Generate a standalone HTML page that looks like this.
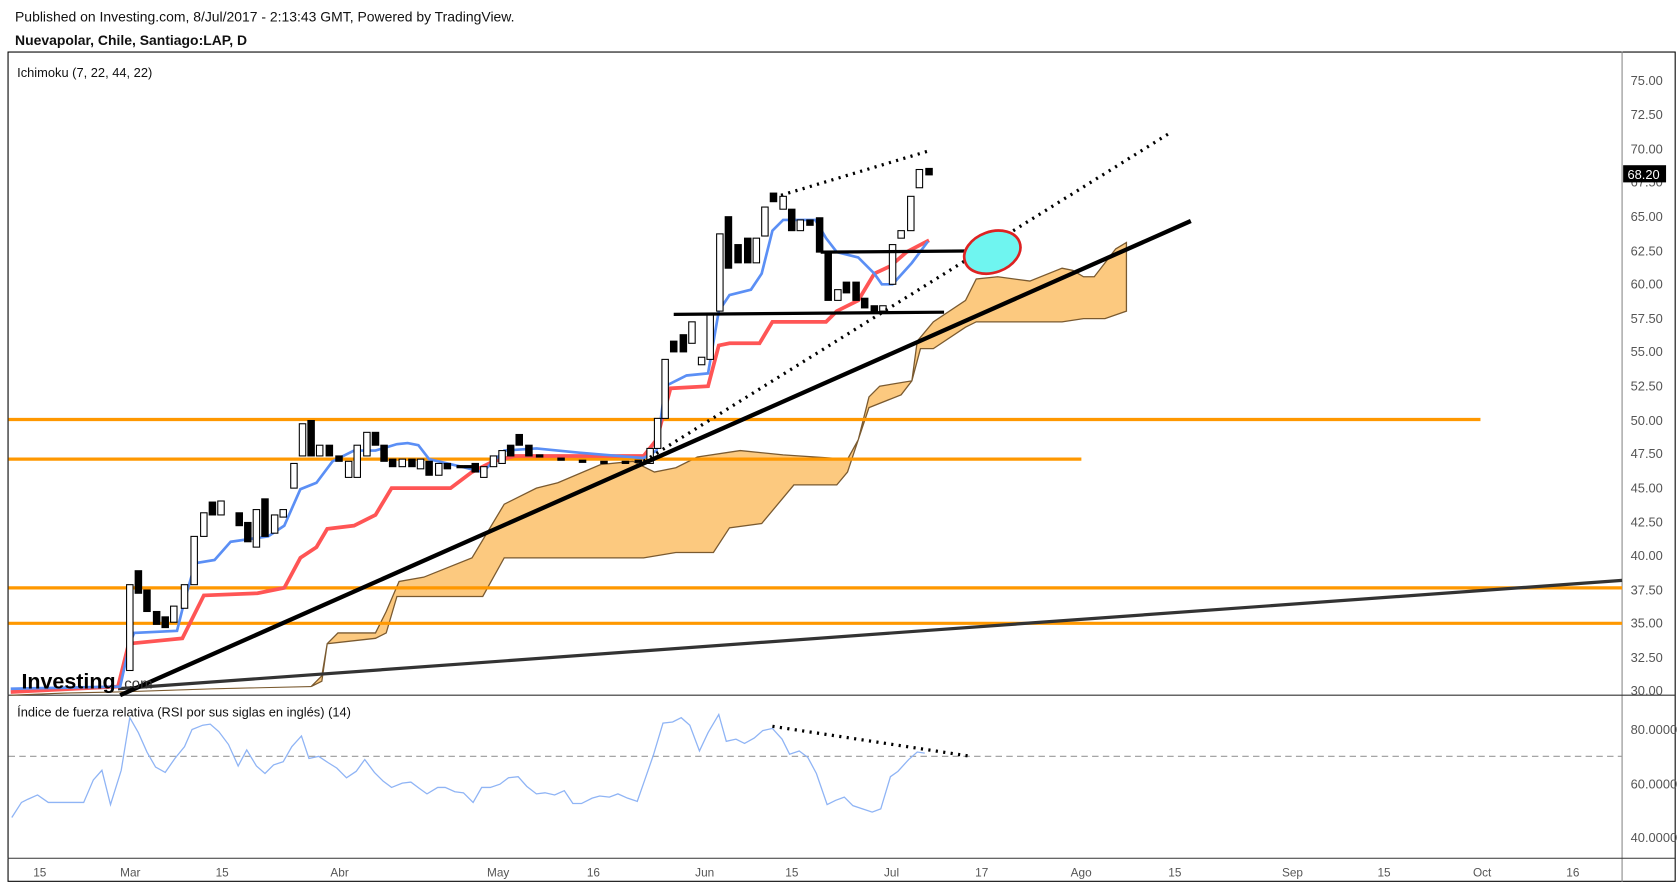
<!DOCTYPE html>
<html><head><meta charset="utf-8"><style>
body{margin:0;background:#fff;font-family:"Liberation Sans",sans-serif;overflow:hidden;}
</style></head><body>
<svg width="1679" height="882" xmlns="http://www.w3.org/2000/svg" font-family="Liberation Sans, sans-serif">
<rect width="1679" height="882" fill="#fff"/>
<g transform="scale(1.0728)">
<text x="14" y="20" font-size="13" fill="#111">Published on Investing.com, 8/Jul/2017 - 2:13:43 GMT, Powered by TradingView.</text>
<text x="14" y="42" font-size="13" font-weight="bold" fill="#111">Nuevapolar, Chile, Santiago:LAP, D</text>
<rect x="7.5" y="48.5" width="1554" height="773" fill="none" stroke="#000" stroke-width="1"/>
<line x1="1512" y1="48" x2="1512" y2="822" stroke="#888"/>
<line x1="7" y1="648" x2="1562" y2="648" stroke="#333"/>
<line x1="7" y1="800" x2="1562" y2="800" stroke="#333"/>
<text x="16" y="72" font-size="12" fill="#111">Ichimoku (7, 22, 44, 22)</text>
<g font-size="12" fill="#555">
<text x="1520" y="79">75.00</text><text x="1520" y="111">72.50</text><text x="1520" y="143">70.00</text><text x="1520" y="174">67.50</text><text x="1520" y="206">65.00</text><text x="1520" y="238">62.50</text><text x="1520" y="269">60.00</text><text x="1520" y="301">57.50</text><text x="1520" y="332">55.00</text><text x="1520" y="364">52.50</text><text x="1520" y="396">50.00</text><text x="1520" y="427">47.50</text><text x="1520" y="459">45.00</text><text x="1520" y="491">42.50</text><text x="1520" y="522">40.00</text><text x="1520" y="554">37.50</text><text x="1520" y="585">35.00</text><text x="1520" y="617">32.50</text><text x="1520" y="648">30.00</text>
<text x="1520" y="684">80.0000</text><text x="1520" y="735">60.0000</text><text x="1520" y="785">40.0000</text>
</g>
<rect x="1513" y="154" width="40" height="16" fill="#000"/><text x="1517" y="167" font-size="12" fill="#fff">68.20</text>
<g font-size="11" fill="#555">
<text x="31" y="817">15</text><text x="112" y="817">Mar</text><text x="201" y="817">15</text><text x="308" y="817">Abr</text><text x="454" y="817">May</text><text x="547" y="817">16</text><text x="648" y="817">Jun</text><text x="732" y="817">15</text><text x="824" y="817">Jul</text><text x="909" y="817">17</text><text x="998" y="817">Ago</text><text x="1089" y="817">15</text><text x="1195" y="817">Sep</text><text x="1284" y="817">15</text><text x="1373" y="817">Oct</text><text x="1460" y="817">16</text>
</g>
<polygon fill="#fcc97f" stroke="#7a5a30" stroke-width="1.2" points="290,640 300,630 305,600 315,590 350,590 360,570 372,542 395,538 440,520 470,470 500,455 520,450 560,433 590,430 610,440 630,436 650,426 690,420 730,424 790,428 800,410 810,370 820,360 850,355 855,318 870,300 900,280 910,260 930,258 960,262 990,250 1000,252 1010,258 1020,258 1030,245 1040,232 1050,226 1050,290 1030,297 1010,297 990,300 910,300 900,305 870,325 858,325 850,355 840,368 810,380 800,410 790,440 780,452 740,452 710,488 680,492 665,515 630,515 600,520 500,520 470,520 450,556 370,556 360,590 350,595 305,600 300,635"/>
<polyline fill="#fcc97f" stroke="#7a5a30" points="10,648 60,646 110,645 200,642 290,640"/>
<g stroke="#ff9800" stroke-width="3">
<line x1="8" y1="391" x2="1380" y2="391"/><line x1="8" y1="428" x2="1008" y2="428"/>
<line x1="8" y1="548" x2="1512" y2="548"/><line x1="8" y1="581" x2="1512" y2="581"/>
</g>
<line x1="110" y1="642" x2="1512" y2="541" stroke="#333" stroke-width="3"/>
<polyline fill="none" stroke="#f55" stroke-width="3.5" points="10,645 110,640 120,600 170,595 190,555 240,553 265,548 280,520 295,510 305,493 330,490 350,480 365,455 420,455 440,440 460,430 480,425 600,425 612,410 625,362 660,360 670,322 680,320 708,320 720,300 770,300 780,290 800,280 815,255 830,248 845,235 866,224"/>
<polyline fill="none" stroke="#5b8ff5" stroke-width="2.5" points="10,642 112,640 121,600 125,590 165,588 172,560 182,525 200,522 215,505 250,500 265,490 280,456 295,450 310,430 330,420 350,420 370,414 380,413 390,415 400,428 430,435 450,440 470,420 500,418 540,422 600,427 612,420 620,360 630,355 640,350 660,348 670,290 680,275 700,270 710,255 720,215 730,205 760,205 770,222 780,235 800,240 815,255 822,265 832,265 850,245 865,225"/>
<g stroke="#000" stroke-width="1">
<g fill="#fff">
<rect x="118" y="545" width="6" height="80"/><rect x="159" y="565" width="6" height="15"/><rect x="169" y="545" width="6" height="22"/><rect x="178" y="500" width="6" height="45"/><rect x="187" y="478" width="6" height="22"/><rect x="203" y="467" width="6" height="13"/><rect x="236" y="475" width="6" height="35"/><rect x="253" y="480" width="6" height="17"/><rect x="261" y="475" width="6" height="7"/><rect x="271" y="432" width="6" height="23"/><rect x="279" y="395" width="6" height="30"/><rect x="295" y="415" width="6" height="10"/><rect x="322" y="430" width="6" height="15"/><rect x="330" y="415" width="6" height="30"/><rect x="339" y="403" width="6" height="22"/><rect x="372" y="428" width="6" height="7"/><rect x="389" y="428" width="6" height="9"/><rect x="406" y="432" width="6" height="11"/><rect x="448" y="435" width="6" height="10"/><rect x="457" y="425" width="6" height="10"/><rect x="465" y="420" width="6" height="12"/><rect x="603" y="418" width="6" height="14"/><rect x="610" y="390" width="6" height="28"/><rect x="617" y="335" width="6" height="55"/><rect x="642" y="300" width="6" height="20"/><rect x="651" y="333" width="6" height="7"/><rect x="659" y="293" width="6" height="42"/><rect x="668" y="218" width="6" height="72"/><rect x="702" y="222" width="6" height="23"/><rect x="710" y="193" width="6" height="27"/><rect x="727" y="183" width="6" height="12"/><rect x="743" y="205" width="6" height="10"/><rect x="778" y="270" width="6" height="10"/><rect x="820" y="285" width="6" height="5"/><rect x="829" y="228" width="6" height="37"/><rect x="837" y="215" width="6" height="7"/><rect x="846" y="183" width="6" height="32"/><rect x="854" y="158" width="6" height="17"/>
</g>
<g fill="#000">
<rect x="126" y="532" width="6" height="21"/><rect x="134" y="550" width="6" height="20"/><rect x="143" y="570" width="6" height="12"/><rect x="151" y="575" width="6" height="10"/><rect x="195" y="468" width="6" height="12"/><rect x="220" y="478" width="6" height="12"/><rect x="228" y="487" width="6" height="18"/><rect x="244" y="465" width="6" height="35"/><rect x="287" y="392" width="6" height="33"/><rect x="304" y="415" width="6" height="10"/><rect x="313" y="425" width="6" height="5"/><rect x="347" y="403" width="6" height="12"/><rect x="355" y="415" width="6" height="15"/><rect x="363" y="428" width="6" height="7"/><rect x="381" y="428" width="6" height="7"/><rect x="397" y="430" width="6" height="13"/><rect x="414" y="432" width="6" height="5"/><rect x="440" y="432" width="6" height="8"/><rect x="473" y="415" width="6" height="10"/><rect x="481" y="405" width="6" height="10"/><rect x="490" y="415" width="6" height="10"/><rect x="625" y="318" width="6" height="10"/><rect x="634" y="312" width="6" height="16"/><rect x="676" y="202" width="6" height="48"/><rect x="685" y="228" width="6" height="17"/><rect x="694" y="222" width="6" height="23"/><rect x="718" y="180" width="6" height="8"/><rect x="735" y="195" width="6" height="20"/><rect x="752" y="205" width="6" height="5"/><rect x="761" y="203" width="6" height="32"/><rect x="769" y="235" width="6" height="45"/><rect x="786" y="263" width="6" height="10"/><rect x="795" y="263" width="6" height="17"/><rect x="803" y="278" width="6" height="9"/><rect x="812" y="285" width="6" height="5"/><rect x="863" y="157" width="6" height="6"/>
</g>
<g fill="#000"><rect x="500" y="424" width="6" height="2"/><rect x="520" y="427" width="6" height="2"/><rect x="540" y="429" width="6" height="2"/><rect x="560" y="430" width="6" height="2"/><rect x="580" y="430" width="6" height="2"/><rect x="592" y="429" width="6" height="2"/><rect x="426" y="434" width="6" height="2"/><rect x="433" y="434" width="6" height="2"/></g>
</g>
<line x1="112" y1="648" x2="1110" y2="206" stroke="#000" stroke-width="4"/>
<line x1="600" y1="430" x2="1092" y2="123" stroke="#000" stroke-width="3" stroke-dasharray="2,5"/>
<line x1="628" y1="293" x2="880" y2="291" stroke="#000" stroke-width="3"/>
<line x1="765" y1="235" x2="900" y2="234" stroke="#000" stroke-width="3"/>
<line x1="728" y1="182" x2="868" y2="140" stroke="#000" stroke-width="3" stroke-dasharray="2,5"/>
<ellipse cx="925" cy="235" rx="27" ry="19" transform="rotate(-20 925 235)" fill="#6ff5f0" stroke="#d22" stroke-width="2.5"/>
<text x="20" y="642" font-size="20" font-weight="bold" fill="#000">Investing</text><text x="112" y="642" font-size="14" fill="#333">.com</text>
<text x="16" y="668" font-size="12" fill="#111">Índice de fuerza relativa (RSI por sus siglas en inglés) (14)</text>
<line x1="8" y1="705" x2="1512" y2="705" stroke="#999" stroke-dasharray="6,4"/>
<polyline fill="none" stroke="#8fb4f5" stroke-width="1.2" points="11,762 20,748 26,745 35,741 45,748 78,748 87,727 95,718 103,750 113,718 121,669 129,683 137,701 145,715 154,720 163,707 172,696 179,680 189,676 196,675 204,682 213,694 222,714 230,699 239,714 247,721 255,713 264,710 272,696 281,686 288,707 297,705 306,711 314,716 323,725 332,719 340,708 349,720 357,728 365,734 375,730 383,729 391,735 398,740 408,734 415,734 424,738 432,739 441,748 449,734 457,734 466,731 474,725 483,724 491,733 500,740 508,739 517,741 526,737 534,749 542,749 552,744 559,742 568,743 576,740 585,744 594,747 601,727 609,704 618,674 627,673 635,669 643,676 652,700 660,683 670,666 677,691 686,689 694,693 703,688 711,681 720,679 729,689 736,703 745,700 753,706 761,721 771,750 779,746 787,743 795,751 804,754 813,757 821,754 830,724 837,719 847,708 855,701 862,702"/>
<line x1="720" y1="677" x2="905" y2="705" stroke="#000" stroke-width="3" stroke-dasharray="2,5"/>
</g>
</svg>
</body></html>
